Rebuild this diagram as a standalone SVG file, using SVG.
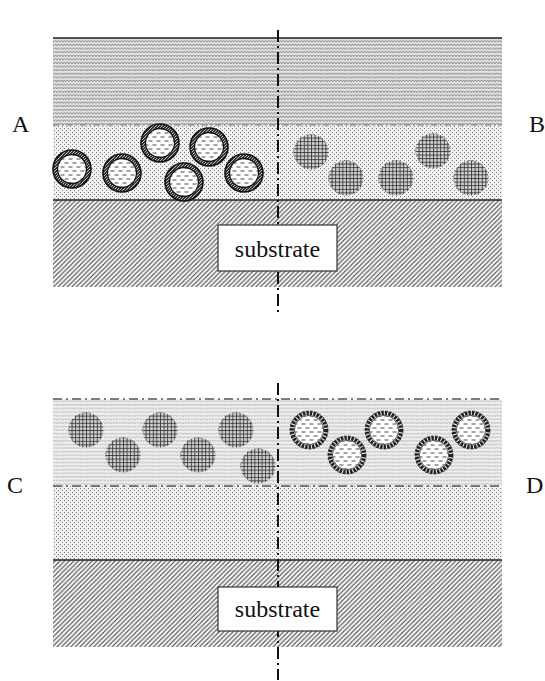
<svg xmlns="http://www.w3.org/2000/svg" xmlns:xlink="http://www.w3.org/1999/xlink" width="545" height="681" viewBox="0 0 545 681">
  <style>
    .lbl { font-family: "Liberation Serif", "Times New Roman", serif; font-size: 24px; fill: #111; }
    .solid { stroke: #222; stroke-width: 1.6; fill: none; }
    .dashdot { stroke: #555; stroke-width: 1.4; stroke-dasharray: 9 4 2 4; fill: none; }
    .dashthin { stroke: #777; stroke-width: 1.1; stroke-dasharray: 6 3 1.5 3; fill: none; }
    .axis { stroke: #111; stroke-width: 2; stroke-dasharray: 12 4 2 4; fill: none; }
    .box { fill: #fff; stroke: #333; stroke-width: 1.2; }
  </style>
  <defs>
    <!-- wavy fill, dark and light variants -->
    <pattern id="waveDark" width="6" height="3.6" patternUnits="userSpaceOnUse">
      <rect width="6" height="3.6" fill="#e4e4e4"/>
      <path d="M0,2.6 L1.5,0.8 L3,2.6 L4.5,0.8 L6,2.6" stroke="#7a7a7a" stroke-width="0.9" fill="none"/>
    </pattern>
    <pattern id="waveLight" width="6" height="3.6" patternUnits="userSpaceOnUse">
      <rect width="6" height="3.6" fill="#f1f1f1"/>
      <path d="M0,2.6 L1.5,0.8 L3,2.6 L4.5,0.8 L6,2.6" stroke="#ababab" stroke-width="0.75" fill="none"/>
    </pattern>
    <!-- dotted fill -->
    <pattern id="dots" width="4" height="4" patternUnits="userSpaceOnUse">
      <rect width="4" height="4" fill="#f2f2f2"/>
      <rect x="0" y="0" width="1" height="1" fill="#7a7a7a"/>
      <rect x="2" y="2" width="1" height="1" fill="#7a7a7a"/>
    </pattern>
    <!-- diagonal hatch for substrate -->
    <pattern id="hatch" width="4.6" height="4.6" patternUnits="userSpaceOnUse">
      <rect width="4.6" height="4.6" fill="#f6f6f6"/>
      <path d="M-1,1 L1,-1 M0,4.6 L4.6,0 M3.6,5.6 L5.6,3.6" stroke="#444" stroke-width="1.05"/>
    </pattern>
    <!-- cross-hatch for solid particles -->
    <pattern id="grid" width="3.6" height="3.6" patternUnits="userSpaceOnUse">
      <rect width="3.6" height="3.6" fill="#d2d2d2"/>
      <path d="M0.5,0 V3.6 M0,0.5 H3.6" stroke="#2a2a2a" stroke-width="0.8"/>
    </pattern>
    <!-- ring hatch for coated particles -->
    <pattern id="ringHatch" width="3" height="3" patternUnits="userSpaceOnUse">
      <rect width="3" height="3" fill="#333"/>
      <path d="M0,3 L3,0" stroke="#ddd" stroke-width="0.8"/>
    </pattern>
    <!-- liquid core dashes, staggered rows -->
    <pattern id="core" width="8" height="8" patternUnits="userSpaceOnUse">
      <rect width="8" height="8" fill="#fff"/>
      <path d="M0.5,2 H4.5 M4.5,6 H8.5 M-3.5,6 H0.5" stroke="#333" stroke-width="0.9"/>
    </pattern>

    <!-- particle with hatched shell -->
    <g id="shellHatched">
      <circle r="17" fill="none" stroke="url(#ringHatch)" stroke-width="4"/>
      <circle r="19" fill="none" stroke="#111" stroke-width="1.6"/>
      <circle r="14.5" fill="url(#core)" stroke="#111" stroke-width="1.3"/>
    </g>
    <!-- solid cross-hatched particle -->
    <g id="solidGrid">
      <circle r="17.5" fill="url(#grid)"/>
    </g>
    <!-- particle with broken shell -->
    <g id="shellBroken">
      <circle r="17" fill="none" stroke="#222" stroke-width="4" stroke-dasharray="2.4 1.1"/>
      <circle r="19" fill="none" stroke="#222" stroke-width="0.8" stroke-dasharray="3 1.5"/>
      <circle r="14.6" fill="url(#core)" stroke="#333" stroke-width="0.8"/>
    </g>
  </defs>

  <rect width="545" height="681" fill="#fff"/>

  <!-- upper stack -->
  <g id="stack-top">
    <rect x="53" y="38" width="449" height="87" fill="url(#waveDark)"/>
    <rect x="53" y="125" width="449" height="75" fill="url(#dots)"/>
    <rect x="53" y="200" width="449" height="87" fill="url(#hatch)"/>
    <line class="solid" x1="53" y1="38" x2="502" y2="38"/>
    <line class="dashthin" x1="53" y1="125" x2="502" y2="125"/>
    <line class="solid" x1="53" y1="200" x2="502" y2="200"/>
  </g>

  <!-- lower stack -->
  <g id="stack-bottom">
    <rect x="53" y="399" width="449" height="87" fill="url(#waveLight)"/>
    <rect x="53" y="486" width="449" height="74" fill="url(#dots)"/>
    <rect x="53" y="560" width="449" height="87" fill="url(#hatch)"/>
    <line class="dashdot" x1="53" y1="399" x2="502" y2="399"/>
    <line class="dashdot" x1="53" y1="486" x2="502" y2="486"/>
    <line class="solid" x1="53" y1="560" x2="502" y2="560"/>
  </g>

  <!-- particles A -->
  <g id="particles-A">
    <use xlink:href="#shellHatched" transform="translate(72,169)"/>
    <use xlink:href="#shellHatched" transform="translate(122,173)"/>
    <use xlink:href="#shellHatched" transform="translate(160,143)"/>
    <use xlink:href="#shellHatched" transform="translate(209,147)"/>
    <use xlink:href="#shellHatched" transform="translate(184,182)"/>
    <use xlink:href="#shellHatched" transform="translate(244,173)"/>
  </g>
  <!-- particles B -->
  <g id="particles-B">
    <use xlink:href="#solidGrid" transform="translate(311,152)"/>
    <use xlink:href="#solidGrid" transform="translate(346,178)"/>
    <use xlink:href="#solidGrid" transform="translate(396,178)"/>
    <use xlink:href="#solidGrid" transform="translate(433,151)"/>
    <use xlink:href="#solidGrid" transform="translate(471,178)"/>
  </g>
  <!-- particles C -->
  <g id="particles-C">
    <use xlink:href="#solidGrid" transform="translate(86,430)"/>
    <use xlink:href="#solidGrid" transform="translate(123,455)"/>
    <use xlink:href="#solidGrid" transform="translate(160,430)"/>
    <use xlink:href="#solidGrid" transform="translate(198,455)"/>
    <use xlink:href="#solidGrid" transform="translate(236,430)"/>
    <use xlink:href="#solidGrid" transform="translate(258,466)"/>
  </g>
  <!-- particles D -->
  <g id="particles-D">
    <use xlink:href="#shellBroken" transform="translate(309,430)"/>
    <use xlink:href="#shellBroken" transform="translate(347,455)"/>
    <use xlink:href="#shellBroken" transform="translate(384,430)"/>
    <use xlink:href="#shellBroken" transform="translate(434,455)"/>
    <use xlink:href="#shellBroken" transform="translate(471,430)"/>
  </g>

  <!-- symmetry axes -->
  <g id="axes">
    <line class="axis" x1="278" y1="30" x2="278" y2="313"/>
    <line class="axis" x1="278" y1="383" x2="278" y2="680"/>
  </g>

  <!-- substrate labels -->
  <g id="substrate-top">
    <rect class="box" x="218" y="225" width="119" height="46"/>
    <text class="lbl" x="277.5" y="257" text-anchor="middle">substrate</text>
  </g>
  <g id="substrate-bottom">
    <rect class="box" x="218" y="587" width="119" height="44"/>
    <text class="lbl" x="277.5" y="617" text-anchor="middle">substrate</text>
  </g>

  <!-- side labels -->
  <g id="labels">
    <text class="lbl" x="12" y="132">A</text>
    <text class="lbl" x="529" y="132">B</text>
    <text class="lbl" x="7" y="493">C</text>
    <text class="lbl" x="526" y="493">D</text>
  </g>
</svg>
